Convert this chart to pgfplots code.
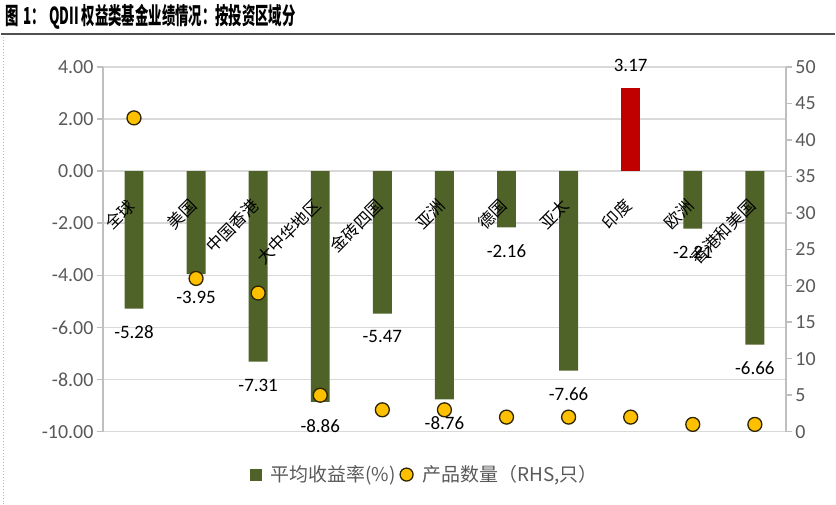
\documentclass[border=0pt]{standalone}
\usepackage{pgfplots}
\pgfplotsset{compat=1.18}
\usepackage{fontspec}
\setmainfont{Carlito}
\newfontfamily\cjk{Noto Sans CJK SC}
\newfontfamily\titlefont{Noto Sans CJK SC}[FakeStretch=0.57]

\definecolor{barg}{RGB}{79,98,40}
\definecolor{barred}{RGB}{192,0,0}
\definecolor{dotyel}{RGB}{255,192,0}
\definecolor{dotedge}{RGB}{45,36,0}
\definecolor{gridgray}{RGB}{217,217,217}
\definecolor{axisgray}{RGB}{191,191,191}
\definecolor{labgray}{RGB}{89,89,89}
\definecolor{titleline}{RGB}{80,80,80}

\pgfplotsset{set layers}

\begin{document}
\begin{tikzpicture}
\path (0,0) rectangle (836pt,506pt);
\draw[line width=2.5pt, titleline] (0,472pt) -- (836pt,472pt);
\draw[dotted, gray!55, line width=1pt] (2pt,0) -- (2pt,470pt);
\node[anchor=base west, inner sep=0pt, font=\titlefont\bfseries\fontsize{23.5}{26}\selectfont]
  at (4pt,481pt) {图\hspace{5pt}1：\hspace{4pt}QDII 权益类基金业绩情况：按投资区域分};

% left axis: average return (%)
\begin{axis}[
  at={(102pt,73pt)}, anchor=south west,
  scale only axis, width=685pt, height=366pt,
  xmin=-0.5, xmax=10.5, ymin=-10, ymax=4,
  ytick={-10,-8,...,4},
  axis y line*=left, axis x line*=bottom,
  x axis line style={draw=none},
  y axis line style={draw=axisgray, line width=1.5pt},
  ytick style={draw=axisgray, line width=1.5pt},
  xtick style={draw=none},
  tick align=outside, major tick length=6pt,
  ymajorgrids, grid style={draw=gridgray, line width=1.5pt},
  /pgf/number format/assume math mode=true,
  ticklabel style={font=\fontsize{20}{24}\selectfont, text=labgray},
  yticklabel style={/pgf/number format/.cd, fixed, fixed zerofill, precision=2},
  xtick={0,...,10},
  xticklabels={全球,美国,中国香港,大中华地区,金砖四国,亚洲,德国,亚太,印度,欧洲,香港和美国},
  xticklabel style={font=\cjk\fontsize{16.5}{18}\selectfont, text=black,
    yshift=238pt, rotate=45, anchor=east, /pgfplots/on layer=axis foreground},
  ybar, bar width=19pt,
  nodes near coords,
  nodes near coords style={font=\fontsize{19}{22}\selectfont, text=black, inner ysep=17pt,
    /pgf/number format/.cd, fixed, fixed zerofill, precision=2},
  clip=false,
]
\addplot[fill=barg, draw=none, bar shift=0pt] coordinates {
(0,-5.28) (1,-3.95) (2,-7.31) (3,-8.86) (4,-5.47) (5,-8.76)
(6,-2.16) (7,-7.66) (9,-2.21) (10,-6.66)
};
\addplot[fill=barred, draw=none, bar shift=0pt] coordinates {
(8,3.17)
};
\end{axis}

% right axis: number of funds
\begin{axis}[
  at={(102pt,73pt)}, anchor=south west,
  scale only axis, width=685pt, height=366pt,
  xmin=-0.5, xmax=10.5, ymin=0, ymax=50,
  ytick={0,5,...,50},
  axis y line*=right, axis x line=none,
  y axis line style={draw=axisgray, line width=1.5pt},
  ytick style={draw=axisgray, line width=1.5pt},
  tick align=outside, major tick length=6pt,
  /pgf/number format/assume math mode=true,
  ticklabel style={font=\fontsize{20}{24}\selectfont, text=labgray},
  clip=false,
  legend columns=2,
  legend style={at={(0.4715,-0.1175)}, anchor=center, draw=none, fill=none,
    font=\cjk\fontsize{19}{22}\selectfont, text=labgray,
    /tikz/every even column/.append style={column sep=2pt}},
]
\addlegendimage{legend image code/.code={
  \fill[barg] (0pt,-5.5pt) rectangle (11pt,5.5pt);
  \path[draw=none, fill=none] (0pt,0pt) -- (18pt,0pt);}}
\addlegendentry{平均收益率(\%)}
\addplot[only marks, mark=*, mark size=7pt,
  mark options={fill=dotyel, draw=dotedge, line width=1.3pt},
  legend image code/.code={
    \draw[fill=dotyel, draw=dotedge, line width=1.3pt] (7pt,0pt) circle (6.5pt);
    \path[draw=none, fill=none] (0pt,0pt) -- (21pt,0pt);}] coordinates {
(0,43) (1,21) (2,19) (3,5) (4,3) (5,3) (6,2) (7,2) (8,2) (9,1) (10,1)
};
\addlegendentry{产品数量（RHS,只）}
\end{axis}
\end{tikzpicture}
\end{document}
